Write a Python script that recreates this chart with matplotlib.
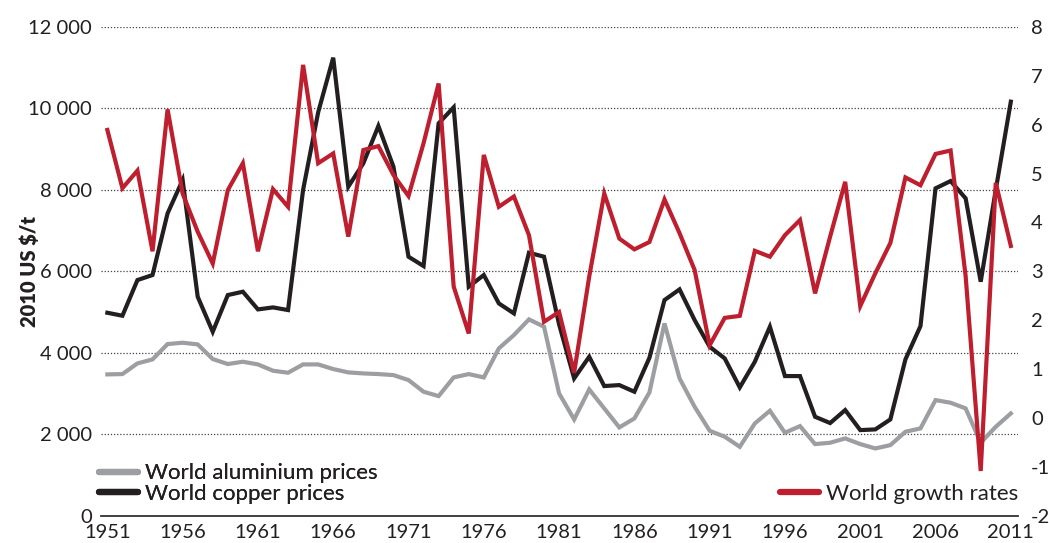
import numpy as np
import matplotlib
matplotlib.use("Agg")
from matplotlib import pyplot as plt
from matplotlib.ticker import FuncFormatter, MultipleLocator

plt.rcParams['font.family'] = ['Lato', 'DejaVu Sans']
plt.rcParams['axes.unicode_minus'] = False

years = list(range(1951, 2012))

# 2010 US $/t
aluminium = [3473, 3481, 3743, 3841, 4217, 4250, 4209, 3849, 3727, 3784,
             3718, 3563, 3514, 3718, 3718, 3604, 3522, 3497, 3481, 3456,
             3334, 3048, 2941, 3399, 3481, 3399, 4111, 4438, 4822, 4642,
             3007, 2369, 3105, 2639, 2173, 2393, 3031, 4724, 3375, 2680,
             2091, 1944, 1698, 2271, 2581, 2042, 2205, 1764, 1797, 1903,
             1764, 1657, 1739, 2066, 2148, 2843, 2778, 2639, 1797, 2189,
             2516]
copper = [4985, 4912, 5787, 5910, 7422, 8240, 5378, 4519, 5419, 5501,
          5067, 5116, 5051, 8000, 9900, 11240, 8076, 8649, 9565, 8567,
          6359, 6130, 9630, 10023, 5623, 5910, 5214, 4969, 6457, 6359,
          4700, 3375, 3906, 3187, 3211, 3048, 3880, 5296, 5558, 4806,
          4151, 3865, 3154, 3784, 4642, 3432, 3432, 2434, 2280, 2598,
          2107, 2124, 2369, 3841, 4658, 8036, 8215, 7790, 5746, 8000,
          10162]
# world growth rates, %
growth = [5.89, 4.70, 5.06, 3.41, 6.31, 4.59, 3.81, 3.16, 4.66, 5.21,
          3.41, 4.68, 4.32, 7.22, 5.21, 5.41, 3.71, 5.48, 5.56, 4.97,
          4.54, 5.62, 6.84, 2.69, 1.73, 5.38, 4.32, 4.53, 3.74, 1.97,
          2.17, 0.93, 2.89, 4.59, 3.67, 3.45, 3.60, 4.47, 3.78, 3.03,
          1.49, 2.05, 2.09, 3.42, 3.30, 3.74, 4.05, 2.55, 3.71, 4.83,
          2.29, 2.96, 3.58, 4.92, 4.76, 5.40, 5.47, 2.90, -1.08, 4.81,
          3.52]

GREY = '#9d9ea1'
BLACK = '#231f20'
RED = '#be1e2d'
TXT = '#231f20'
FS = 14.5
LEG_FS = 16

fig = plt.figure(figsize=(10.49, 5.43), dpi=100)
ax = fig.add_axes([0.0963, 0.0497, 0.9705 - 0.0963, 0.9508 - 0.0497])
ax2 = ax.twinx()

l_al, = ax.plot(years, aluminium, color=GREY, lw=3.0, solid_joinstyle='miter',
                label='World aluminium prices')
l_cu, = ax.plot(years, copper, color=BLACK, lw=3.0, solid_joinstyle='miter',
                label='World copper prices')
l_gr, = ax2.plot(years, growth, color=RED, lw=3.0, solid_joinstyle='miter',
                 label='World growth rates')

ax.set_xlim(1950.58, 2011.48)
ax.set_ylim(0, 12000)
ax2.set_ylim(-2, 8)

ax.set_xticks(list(range(1951, 2012, 5)))
ax.yaxis.set_major_locator(MultipleLocator(2000))
ax.yaxis.set_major_formatter(FuncFormatter(lambda v, p: f"{v:,.0f}".replace(',', ' ')))
ax2.yaxis.set_major_locator(MultipleLocator(1))
ax2.yaxis.set_major_formatter(FuncFormatter(lambda v, p: f"{v:.0f}"))

ax.grid(axis='y', color='#444444', lw=0.9, linestyle=(0, (1, 1.5)))
ax.set_axisbelow(True)

for a in (ax, ax2):
    for s in ('top', 'left', 'right', 'bottom'):
        a.spines[s].set_visible(False)
ax.spines['bottom'].set_visible(True)
ax.spines['bottom'].set_color('#333333')
ax.spines['bottom'].set_linewidth(1.3)

ax.tick_params(axis='both', length=0, labelsize=FS, labelcolor=TXT)
ax.tick_params(axis='y', pad=6.5)
ax.tick_params(axis='x', pad=5.5)
ax2.tick_params(axis='y', length=0, labelsize=FS, labelcolor=TXT, pad=9.4)

ax.set_ylabel('2010 US $/t', fontsize=14.5, fontweight='heavy', color=TXT)
ax.yaxis.set_label_coords(-0.068, 0.5)

leg1 = ax.legend(handles=[l_al, l_cu], loc='lower left', bbox_to_anchor=(-0.002, 0.025),
                 frameon=False, fontsize=LEG_FS, handlelength=1.75, handletextpad=0.3,
                 labelspacing=0.02, borderpad=0, borderaxespad=0)
for h in leg1.legend_handles:
    h.set_linewidth(4.5)
    h.set_solid_capstyle('round')
ax.add_artist(leg1)
for t in leg1.get_texts():
    t.set_color(TXT)

leg2 = ax2.legend(handles=[l_gr], loc='lower right', bbox_to_anchor=(1.0, 0.025),
                  frameon=False, fontsize=LEG_FS, handlelength=1.75, handletextpad=0.3,
                  borderpad=0, borderaxespad=0)
for h in leg2.legend_handles:
    h.set_linewidth(4.5)
    h.set_solid_capstyle('round')
for t in leg2.get_texts():
    t.set_color(TXT)

fig.savefig('out.png', dpi=100)
